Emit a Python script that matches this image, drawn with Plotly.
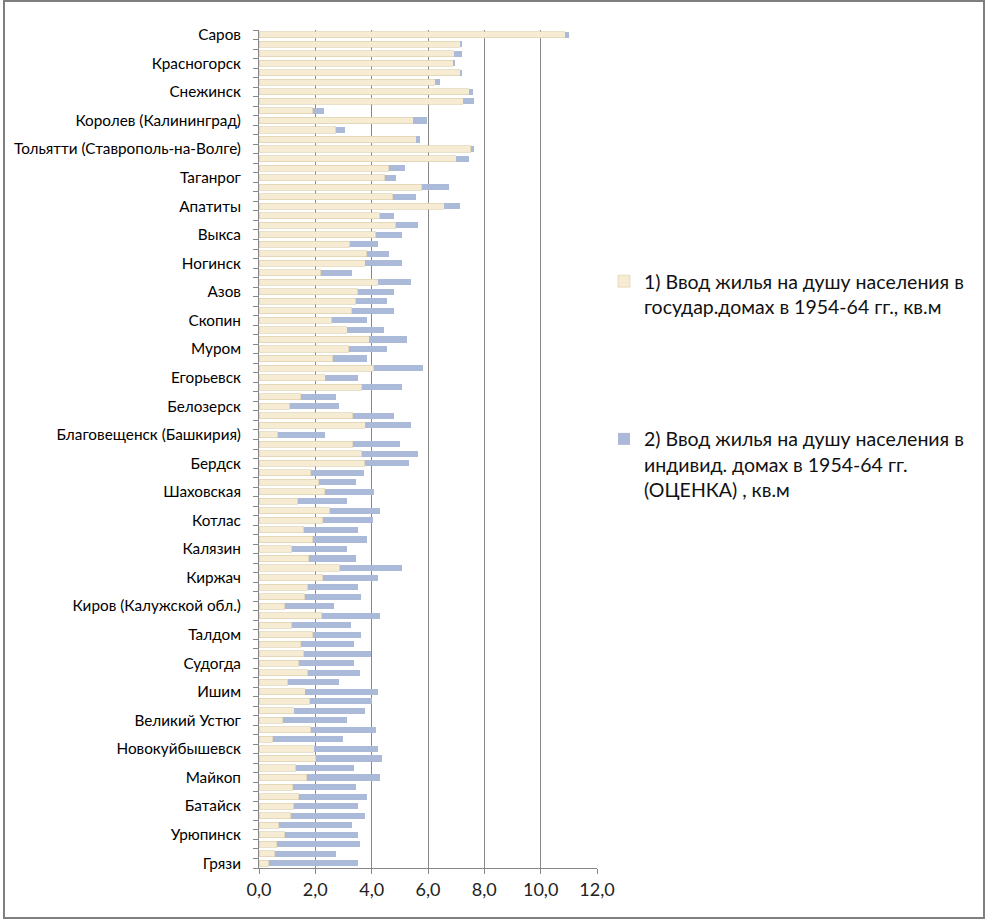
import plotly.graph_objects as go

# Category labels (only every third bar is labelled in the original chart)
cities = [
    "Саров", "", "", "Красногорск", "", "", "Снежинск", "", "",
    "Королев (Калининград)", "", "", "Тольятти (Ставрополь-на-Волге)", "", "",
    "Таганрог", "", "", "Апатиты", "", "", "Выкса", "", "", "Ногинск", "", "",
    "Азов", "", "", "Скопин", "", "", "Муром", "", "", "Егорьевск", "", "",
    "Белозерск", "", "", "Благовещенск (Башкирия)", "", "", "Бердск", "", "",
    "Шаховская", "", "", "Котлас", "", "", "Калязин", "", "", "Киржач", "", "",
    "Киров (Калужской обл.)", "", "", "Талдом", "", "", "Судогда", "", "",
    "Ишим", "", "", "Великий Устюг", "", "", "Новокуйбышевск", "", "",
    "Майкоп", "", "", "Батайск", "", "", "Урюпинск", "", "", "Грязи",
]

# Series 1: state housing per capita (end of cream bar)
state = [
    10.87, 7.15, 6.94, 6.90, 7.15, 6.26, 7.47, 7.26, 1.90, 5.48,
    2.72, 5.59, 7.51, 7.01, 4.60, 4.46, 5.77, 4.74, 6.58, 4.28,
    4.85, 4.14, 3.22, 3.82, 3.78, 2.19, 4.24, 3.50, 3.43, 3.29,
    2.58, 3.14, 3.92, 3.18, 2.61, 4.07, 2.36, 3.64, 1.48, 1.09,
    3.32, 3.78, 0.66, 3.32, 3.64, 3.75, 1.83, 2.12, 2.33, 1.37,
    2.51, 2.26, 1.58, 1.90, 1.16, 1.76, 2.86, 2.26, 1.73, 1.62,
    0.91, 2.22, 1.16, 1.90, 1.48, 1.58, 1.41, 1.73, 1.02, 1.65,
    1.80, 1.26, 0.84, 1.83, 0.48, 1.97, 2.01, 1.30, 1.69, 1.19,
    1.41, 1.23, 1.12, 0.70, 0.91, 0.63, 0.56, 0.34,
]

# Totals (end of blue bar)
total = [
    11.02, 7.22, 7.19, 6.94, 7.19, 6.41, 7.61, 7.65, 2.29, 5.98,
    3.04, 5.73, 7.65, 7.47, 5.17, 4.85, 6.76, 5.56, 7.12, 4.81,
    5.63, 5.09, 4.24, 4.63, 5.06, 3.29, 5.38, 4.78, 4.56, 4.81,
    3.85, 4.42, 5.24, 4.56, 3.82, 5.84, 3.53, 5.06, 2.75, 2.83,
    4.81, 5.38, 2.36, 5.02, 5.66, 5.34, 3.71, 3.46, 4.10, 3.14,
    4.31, 4.03, 3.50, 3.82, 3.11, 3.43, 5.06, 4.21, 3.53, 3.61,
    2.65, 4.28, 3.25, 3.61, 3.36, 3.96, 3.39, 3.57, 2.83, 4.24,
    4.00, 3.78, 3.14, 4.14, 2.97, 4.24, 4.35, 3.36, 4.31, 3.43,
    3.82, 3.50, 3.75, 3.29, 3.53, 3.57, 2.72, 3.53,
]

# Series 2: individual housing per capita (estimate)
individual = [round(t - s, 2) for t, s in zip(total, state)]

x_ticks = [0, 2, 4, 6, 8, 10, 12]
x_ticktext = ["0,0", "2,0", "4,0", "6,0", "8,0", "10,0", "12,0"]

name1 = "1) Ввод жилья на душу населения в<br>государ.домах в 1954-64 гг., кв.м"
name2 = "2) Ввод жилья на душу населения в<br>индивид. домах в 1954-64 гг.<br>(ОЦЕНКА) , кв.м"

pos = list(range(len(cities)))
lab_pos = [i for i, c in enumerate(cities) if c]
lab_txt = [cities[i] for i in lab_pos]

fig = go.Figure()
fig.add_trace(go.Bar(
    y=pos, x=state, orientation="h", name=name1, legendgroup="a",
    marker=dict(color="#F6ECD3", line=dict(color="#D8CBA8", width=0.6)),
))
fig.add_trace(go.Bar(
    y=pos, x=individual, orientation="h", name=name2, legendgroup="b",
    marker=dict(color="#AABAD8", line=dict(width=0)),
))

grid = "#878787"
L, R, T, B = 259, 597, 30, 868
W, H = 986, 921
fig.update_layout(
    width=W, height=H,
    barmode="stack", bargap=0.36,
    paper_bgcolor="white", plot_bgcolor="white",
    margin=dict(l=L, r=W - R, t=T, b=H - B, autoexpand=False),
    font=dict(family="Lato, Noto Sans, sans-serif", color="#000000"),
    xaxis=dict(
        range=[0, 12], tickmode="array", tickvals=x_ticks, ticktext=x_ticktext,
        showgrid=True, gridcolor=grid, gridwidth=1,
        showline=True, linecolor=grid, linewidth=1,
        ticks="outside", ticklen=5, tickcolor=grid,
        tickfont=dict(size=18, color="#222222"), zeroline=False,
    ),
    yaxis=dict(
        range=[len(cities) - 0.5, -0.5], tickmode="array",
        tickvals=lab_pos, ticktext=lab_txt, ticks="",
        ticklabelstandoff=14,
        showgrid=False, zeroline=False,
        showline=True, linecolor=grid, linewidth=1,
        tickfont=dict(size=15.3, color="#000000"),
        minor=dict(tickmode="linear", tick0=-0.5, dtick=1, ticks="outside",
                   ticklen=5, tickcolor=grid, showgrid=False),
    ),
    legend=dict(
        x=(604 - L) / (R - L), y=(B - 262) / (B - T), xanchor="left", yanchor="top",
        traceorder="grouped", tracegroupgap=104, valign="top",
        font=dict(size=19.5, color="#111111"), bgcolor="rgba(0,0,0,0)",
    ),
    shapes=[dict(
        type="rect", xref="paper", yref="paper",
        x0=(4 - L) / (R - L), x1=(984 - L) / (R - L),
        y0=(B - 918) / (B - T), y1=(B - 1) / (B - T),
        line=dict(color="#7F7F7F", width=2), fillcolor="rgba(0,0,0,0)", layer="below",
    )],
)

fig.write_html("out.html", config={"displayModeBar": False},
               post_script="document.body.style.margin='0';")
